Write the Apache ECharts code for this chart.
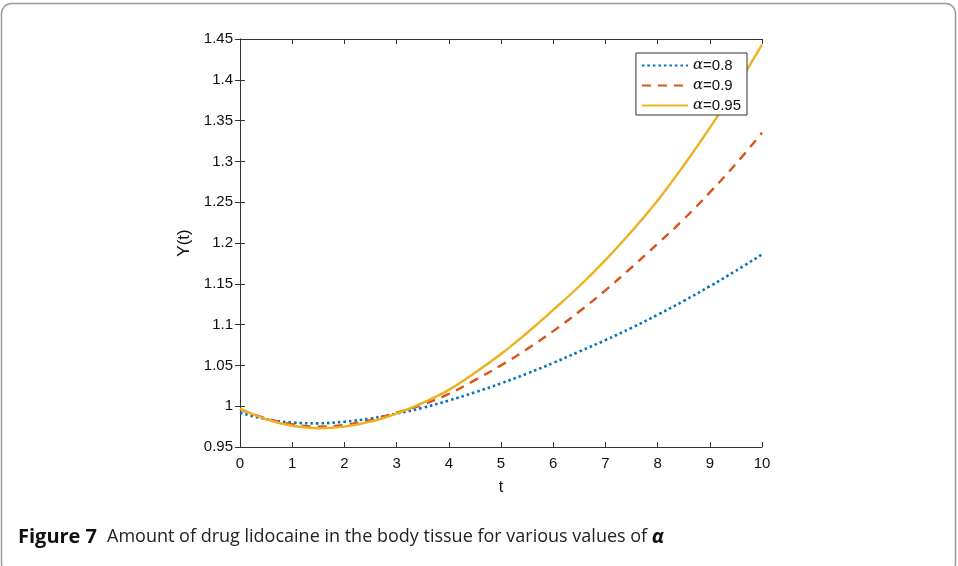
<!DOCTYPE html>
<html>
<head>
<meta charset="utf-8">
<script src="https://cdn.jsdelivr.net/npm/echarts@6/dist/echarts.min.js"></script>
<style>
html,body{margin:0;padding:0;background:#fff;}
#main{width:958px;height:566px;}
</style>
</head>
<body>
<div id="main"></div>
<script>
var tValues = [0,0.5,1,1.5,2,2.5,3,3.5,4,4.5,5,5.5,6,6.5,7,7.5,8,8.5,9,9.5,10];
var alpha08 = [0.992,0.984,0.980,0.979,0.981,0.985,0.991,0.998,1.007,1.017,1.028,1.040,1.053,1.067,1.081,1.096,1.112,1.129,1.147,1.166,1.186];
var alpha09 = [0.996,0.985,0.978,0.975,0.977,0.983,0.992,1.002,1.015,1.032,1.050,1.070,1.092,1.116,1.142,1.170,1.199,1.229,1.262,1.297,1.335];
var alpha095 = [0.997,0.984,0.976,0.973,0.975,0.981,0.991,1.004,1.020,1.041,1.064,1.090,1.118,1.147,1.179,1.214,1.252,1.295,1.341,1.390,1.443];
var seriesNames = ['\u03b1=0.8','\u03b1=0.9','\u03b1=0.95'];
var xTicks = {min:0, max:10, interval:1};
var yTicks = {min:0.95, max:1.45, interval:0.05};

function pairs(ys){ return tValues.map(function(t,i){ return [t, ys[i]]; }); }

var chart = echarts.init(document.getElementById('main'));
var axisColor = '#333';
var fontFam = 'Liberation Sans, Arial, sans-serif';
function baseAxis(extra){
  var a = {
    type:'value',
    axisLine:{show:true, lineStyle:{color:axisColor, width:1}},
    axisTick:{show:true, inside:true, length:5, lineStyle:{color:axisColor}},
    splitLine:{show:false},
    axisLabel:{color:'#111', fontSize:15, fontFamily:fontFam}
  };
  for (var k in extra) a[k]=extra[k];
  return a;
}
var option = {
  animation:false,
  backgroundColor:'#fff',
  grid:{left:240, right:196, top:39, bottom:119},
  xAxis:[
    baseAxis({min:xTicks.min, max:xTicks.max, interval:xTicks.interval, position:'bottom',
      name:'t', nameLocation:'middle', nameGap:33,
      nameTextStyle:{color:'#111', fontSize:16, fontFamily:fontFam},
      axisLabel:{color:'#111', fontSize:15, fontFamily:fontFam, margin:9}}),
    baseAxis({min:xTicks.min, max:xTicks.max, interval:xTicks.interval, position:'top',
      axisLabel:{show:false}})
  ],
  yAxis:[
    baseAxis({min:yTicks.min, max:yTicks.max, interval:yTicks.interval, position:'left',
      name:'Y(t)', nameLocation:'middle', nameGap:39,
      nameTextStyle:{color:'#111', fontSize:17, fontFamily:fontFam},
      axisLabel:{color:'#111', fontSize:15, fontFamily:fontFam, margin:7}}),
    baseAxis({min:yTicks.min, max:yTicks.max, interval:yTicks.interval, position:'right',
      axisLabel:{show:false}})
  ],
  legend:{
    right:958-747, top:53,
    orient:'vertical',
    backgroundColor:'#fff',
    borderColor:'#333', borderWidth:1,
    padding:[5,6,2,5],
    itemGap:5,
    itemWidth:46, itemHeight:14,
    itemStyle:{opacity:0},
    data:seriesNames,
    formatter:function(n){ return '{a|\u03b1}' + n.slice(1); },
    textStyle:{color:'#111', fontSize:15, fontFamily:fontFam,
      rich:{a:{fontFamily:'DejaVu Serif, serif', fontStyle:'italic', fontSize:15, color:'#111'}}}
  },
  graphic:[
    {type:'rect', shape:{x:1.5, y:3.5, width:954, height:570, r:10},
     style:{fill:'none', stroke:'#9a9a9a', lineWidth:1.5}, silent:true, z:-1},
    {type:'text', left:18, top:527,
     style:{
       text:'{b|Figure 7}{s| }{n|Amount of drug lidocaine in the body tissue for various values of }{i|\u03b1}',
       rich:{
         b:{fontFamily:'Open Sans, Noto Sans, sans-serif', fontWeight:'bold', fontSize:20, fill:'#111'},
         s:{width:10, fontSize:18},
         n:{fontFamily:'Open Sans, Noto Sans, sans-serif', fontSize:18, fill:'#222'},
         i:{fontFamily:'Open Sans, Noto Sans, sans-serif', fontStyle:'italic', fontWeight:'bold', fontSize:20, fill:'#111'}
       }
     }}
  ],
  series:[
    {name:seriesNames[0], type:'line', data:pairs(alpha08), smooth:0.4, showSymbol:false, symbol:'none',
     lineStyle:{color:'#0072BD', width:2.6, type:[2.5,3]}, itemStyle:{color:'#0072BD'}},
    {name:seriesNames[1], type:'line', data:pairs(alpha09), smooth:0.4, showSymbol:false, symbol:'none',
     lineStyle:{color:'#D95319', width:2.4, type:[9,7]}, itemStyle:{color:'#D95319'}},
    {name:seriesNames[2], type:'line', data:pairs(alpha095), smooth:0.4, showSymbol:false, symbol:'none',
     lineStyle:{color:'#EDB120', width:2.4}, itemStyle:{color:'#EDB120'}}
  ]
};
chart.setOption(option);
</script>
</body>
</html>
